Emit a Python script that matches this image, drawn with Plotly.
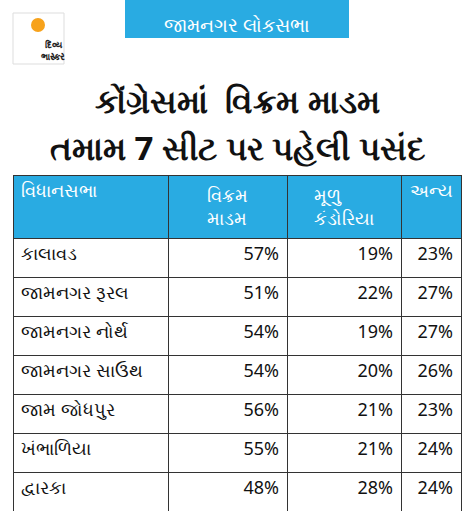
import plotly.graph_objects as go

seats = ["કાલાવડ", "જામનગર રૂરલ", "જામનગર નોર્થ", "જામનગર સાઉથ", "જામ જોધપુર", "ખંભાળિયા", "દ્વારકા"]
vikram = ["57%", "51%", "54%", "54%", "56%", "55%", "48%"]
mulu = ["19%", "22%", "19%", "20%", "21%", "21%", "28%"]
anya = ["23%", "27%", "27%", "26%", "23%", "24%", "24%"]
headers = ["વિધાનસભા", "વિક્રમ<br>માડમ", "મૂળુ<br>કંડોરિયા", "અન્ય"]

W, H = 474, 522
blue = "#29ABE2"
fig = go.Figure()
fig.add_trace(go.Table(
    domain=dict(x=[13 / W, 461 / W], y=[(H - 512) / H, (H - 175) / H]),
    columnwidth=[155, 119, 114, 60],
    header=dict(values=headers, fill_color=blue, line_color="#333", line_width=1,
                font=dict(color="white", size=18, family="Noto Sans"),
                align=["left", "center", "center", "center"], height=62),
    cells=dict(values=[seats, vikram, mulu, anya], fill_color="white", line_color="#333", line_width=1,
               font=dict(color="#111", size=18, family="Noto Sans"),
               align=["left", "right", "right", "right"], height=39),
))
fig.add_shape(type="rect", xref="paper", yref="paper", x0=125 / W, x1=349 / W,
              y0=1 - 38 / H, y1=1, fillcolor=blue, line_width=0)
fig.add_annotation(x=237 / W, y=1 - 10 / H, xref="paper", yref="paper", text="જામનગર લોકસભા",
                   showarrow=False, font=dict(color="white", size=19, family="Noto Sans"))
fig.add_shape(type="rect", xref="paper", yref="paper", x0=13 / W, x1=64 / W,
              y0=1 - 64 / H, y1=1 - 13 / H, fillcolor="white", line=dict(color="#ddd", width=1))
fig.add_shape(type="circle", xref="paper", yref="paper", x0=31 / W, x1=45 / W,
              y0=1 - 32 / H, y1=1 - 18 / H, fillcolor="#F7A21B", line_width=0)
fig.add_annotation(x=38.5 / W, y=1 - 36 / H, xref="paper", yref="paper", text="<b>દિવ્ય<br>ભાસ્કર</b>",
                   showarrow=False, font=dict(color="#222", size=9, family="Noto Sans"))
fig.add_annotation(x=237 / W, y=1 - 76 / H, xref="paper", yref="paper", text="<b>કોંગ્રેસમાં  વિક્રમ માડમ</b>",
                   showarrow=False, font=dict(color="#111", size=33, family="Noto Sans"))
fig.add_annotation(x=237 / W, y=1 - 123 / H, xref="paper", yref="paper", text="<b>તમામ 7 સીટ પર પહેલી પસંદ</b>",
                   showarrow=False, font=dict(color="#111", size=33, family="Noto Sans"))
fig.update_layout(width=W, height=H, margin=dict(l=0, r=0, t=0, b=0),
                  paper_bgcolor="white", plot_bgcolor="white")
fig.write_html("out.html", post_script="document.body.style.margin='0';",
               config={"displayModeBar": False})
